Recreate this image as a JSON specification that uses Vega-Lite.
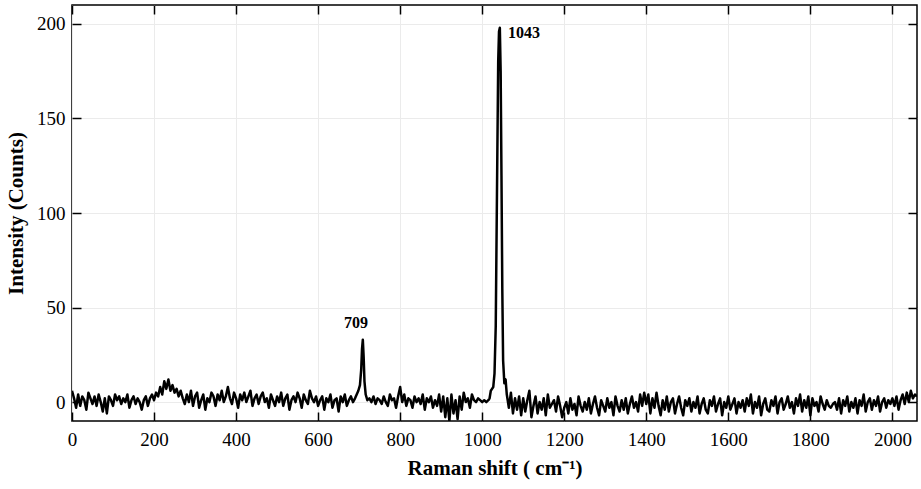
{
  "$schema": "https://vega.github.io/schema/vega-lite/v6.json",
  "width": 845,
  "height": 416,
  "autosize": {"type": "none"},
  "padding": {"left": 72, "top": 5, "right": 4, "bottom": 68},
  "background": "white",
  "config": {
    "view": {"stroke": "black", "strokeWidth": 1.5},
    "font": "Liberation Serif",
    "axis": {
      "labelFont": "Liberation Serif",
      "titleFont": "Liberation Serif",
      "labelFontSize": 19,
      "labelColor": "black",
      "titleColor": "black",
      "titleFontSize": 21,
      "titleFontWeight": "bold",
      "domain": false,
      "tickColor": "black",
      "tickWidth": 1.5,
      "tickSize": -9,
      "labelFlush": false,
      "gridColor": "#ebebeb",
      "gridWidth": 1
    }
  },
  "resolve": {"axis": {"x": "independent", "y": "independent"}},
  "datasets": {
    "spec": [
      {"x":0,"y":6},{"x":5,"y":2},{"x":10,"y":-3},{"x":15,"y":4},{"x":20,"y":-2},{"x":25,"y":3},{"x":30,"y":1},{"x":35,"y":-4},{"x":40,"y":5},{"x":45,"y":2},
      {"x":50,"y":-1},{"x":55,"y":3},{"x":60,"y":-2},{"x":65,"y":4},{"x":70,"y":0},{"x":75,"y":-5},{"x":80,"y":2},{"x":85,"y":-6},{"x":90,"y":3},{"x":95,"y":1},
      {"x":100,"y":-2},{"x":105,"y":4},{"x":110,"y":1},{"x":115,"y":3},{"x":120,"y":-1},{"x":125,"y":2},{"x":130,"y":0},{"x":135,"y":4},{"x":140,"y":-3},{"x":145,"y":1},
      {"x":150,"y":3},{"x":155,"y":-1},{"x":160,"y":2},{"x":165,"y":0},{"x":170,"y":-4},{"x":175,"y":1},{"x":180,"y":3},{"x":185,"y":-2},{"x":190,"y":2},{"x":195,"y":4},
      {"x":200,"y":1},{"x":205,"y":5},{"x":210,"y":3},{"x":215,"y":8},{"x":220,"y":4},{"x":225,"y":11},{"x":230,"y":7},{"x":235,"y":12},{"x":240,"y":6},{"x":245,"y":9},
      {"x":250,"y":5},{"x":255,"y":7},{"x":260,"y":3},{"x":265,"y":6},{"x":270,"y":2},{"x":275,"y":-1},{"x":280,"y":4},{"x":285,"y":0},{"x":290,"y":6},{"x":295,"y":-2},
      {"x":300,"y":3},{"x":305,"y":5},{"x":310,"y":-3},{"x":315,"y":1},{"x":320,"y":4},{"x":325,"y":-4},{"x":330,"y":2},{"x":335,"y":0},{"x":340,"y":5},{"x":345,"y":3},
      {"x":350,"y":-2},{"x":355,"y":4},{"x":360,"y":1},{"x":365,"y":6},{"x":370,"y":0},{"x":375,"y":3},{"x":380,"y":8},{"x":385,"y":2},{"x":390,"y":-1},{"x":395,"y":5},
      {"x":400,"y":2},{"x":405,"y":-3},{"x":410,"y":4},{"x":415,"y":1},{"x":420,"y":5},{"x":425,"y":0},{"x":430,"y":3},{"x":435,"y":6},{"x":440,"y":-2},{"x":445,"y":2},
      {"x":450,"y":4},{"x":455,"y":-1},{"x":460,"y":3},{"x":465,"y":5},{"x":470,"y":0},{"x":475,"y":2},{"x":480,"y":-3},{"x":485,"y":4},{"x":490,"y":1},{"x":495,"y":-2},
      {"x":500,"y":3},{"x":505,"y":0},{"x":510,"y":5},{"x":515,"y":-2},{"x":520,"y":2},{"x":525,"y":4},{"x":530,"y":-4},{"x":535,"y":1},{"x":540,"y":3},{"x":545,"y":0},
      {"x":550,"y":5},{"x":555,"y":2},{"x":560,"y":-3},{"x":565,"y":4},{"x":570,"y":1},{"x":575,"y":-1},{"x":580,"y":6},{"x":585,"y":2},{"x":590,"y":0},{"x":595,"y":3},
      {"x":600,"y":-2},{"x":605,"y":1},{"x":610,"y":3},{"x":615,"y":-4},{"x":620,"y":2},{"x":625,"y":0},{"x":630,"y":4},{"x":635,"y":-3},{"x":640,"y":1},{"x":645,"y":2},
      {"x":650,"y":-5},{"x":655,"y":3},{"x":660,"y":0},{"x":665,"y":4},{"x":670,"y":-2},{"x":675,"y":1},{"x":680,"y":3},{"x":685,"y":0},{"x":690,"y":2},{"x":694,"y":4},
      {"x":698,"y":6},{"x":702,"y":9},{"x":705,"y":17},{"x":707,"y":28},{"x":709,"y":33},{"x":711,"y":24},{"x":713,"y":11},{"x":716,"y":4},{"x":720,"y":1},{"x":725,"y":2},
      {"x":730,"y":0},{"x":735,"y":3},{"x":740,"y":-1},{"x":745,"y":2},
      {"x":750,"y":1},{"x":755,"y":-1},{"x":760,"y":3},{"x":765,"y":0},{"x":770,"y":-2},{"x":775,"y":4},{"x":780,"y":1},{"x":785,"y":2},{"x":790,"y":-3},{"x":795,"y":3},
      {"x":800,"y":8},{"x":805,"y":0},{"x":810,"y":4},{"x":815,"y":-2},{"x":820,"y":2},{"x":825,"y":1},{"x":830,"y":-3},{"x":835,"y":3},{"x":840,"y":0},{"x":845,"y":2},
      {"x":850,"y":-1},{"x":855,"y":4},{"x":860,"y":-4},{"x":865,"y":2},{"x":870,"y":0},{"x":875,"y":3},{"x":880,"y":-3},{"x":885,"y":1},{"x":890,"y":-2},{"x":895,"y":4},
      {"x":900,"y":-5},{"x":905,"y":3},{"x":910,"y":-8},{"x":915,"y":2},{"x":920,"y":-10},{"x":925,"y":4},{"x":930,"y":-6},{"x":935,"y":1},{"x":940,"y":-9},{"x":945,"y":3},
      {"x":950,"y":-4},{"x":955,"y":5},{"x":960,"y":0},{"x":965,"y":2},{"x":970,"y":-3},{"x":975,"y":4},{"x":980,"y":1},{"x":985,"y":0},{"x":990,"y":2},{"x":995,"y":1},
      {"x":1000,"y":0},{"x":1005,"y":1},{"x":1010,"y":0},{"x":1015,"y":1},{"x":1018,"y":2},{"x":1021,"y":6},{"x":1024,"y":7},{"x":1027,"y":8},{"x":1030,"y":15},{"x":1033,"y":40},
      {"x":1036,"y":110},{"x":1039,"y":180},{"x":1041,"y":196},{"x":1043,"y":198},{"x":1045,"y":175},{"x":1047,"y":120},{"x":1049,"y":60},{"x":1051,"y":22},{"x":1054,"y":10},{"x":1057,"y":12},
      {"x":1060,"y":4},{"x":1065,"y":-3},{"x":1070,"y":5},{"x":1075,"y":-6},{"x":1080,"y":2},{"x":1085,"y":-4},{"x":1090,"y":3},{"x":1095,"y":-7},
      {"x":1100,"y":2},{"x":1105,"y":-5},{"x":1110,"y":1},{"x":1115,"y":6},{"x":1120,"y":-8},{"x":1125,"y":-2},{"x":1130,"y":3},{"x":1135,"y":-6},{"x":1140,"y":0},{"x":1145,"y":-4},
      {"x":1150,"y":2},{"x":1155,"y":-7},{"x":1160,"y":4},{"x":1165,"y":-3},{"x":1170,"y":-1},{"x":1175,"y":1},{"x":1180,"y":-5},{"x":1185,"y":3},{"x":1190,"y":-2},{"x":1195,"y":-8},
      {"x":1200,"y":-3},{"x":1205,"y":0},{"x":1210,"y":-6},{"x":1215,"y":2},{"x":1220,"y":-4},{"x":1225,"y":-1},{"x":1230,"y":-7},{"x":1235,"y":3},{"x":1240,"y":-2},{"x":1245,"y":-5},
      {"x":1250,"y":0},{"x":1255,"y":-4},{"x":1260,"y":2},{"x":1265,"y":-6},{"x":1270,"y":-1},{"x":1275,"y":3},{"x":1280,"y":-3},{"x":1285,"y":-7},{"x":1290,"y":1},{"x":1295,"y":-2},
      {"x":1300,"y":-5},{"x":1305,"y":2},{"x":1310,"y":-3},{"x":1315,"y":0},{"x":1320,"y":-7},{"x":1325,"y":3},{"x":1330,"y":-2},{"x":1335,"y":-5},{"x":1340,"y":1},{"x":1345,"y":-4},
      {"x":1350,"y":2},{"x":1355,"y":-6},{"x":1360,"y":-1},{"x":1365,"y":3},{"x":1370,"y":-3},{"x":1375,"y":0},{"x":1380,"y":-5},{"x":1385,"y":4},{"x":1390,"y":-2},{"x":1395,"y":5},
      {"x":1400,"y":-1},{"x":1405,"y":4},{"x":1410,"y":-6},{"x":1415,"y":2},{"x":1420,"y":-3},{"x":1425,"y":5},{"x":1430,"y":-2},{"x":1435,"y":-7},{"x":1440,"y":1},{"x":1445,"y":-4},
      {"x":1450,"y":3},{"x":1455,"y":-5},{"x":1460,"y":0},{"x":1465,"y":2},{"x":1470,"y":-6},{"x":1475,"y":-1},{"x":1480,"y":3},{"x":1485,"y":-3},{"x":1490,"y":-7},{"x":1495,"y":1},
      {"x":1500,"y":-2},{"x":1505,"y":2},{"x":1510,"y":-5},{"x":1515,"y":0},{"x":1520,"y":-3},{"x":1525,"y":3},{"x":1530,"y":-6},{"x":1535,"y":-1},{"x":1540,"y":2},{"x":1545,"y":-4},
      {"x":1550,"y":-6},{"x":1555,"y":1},{"x":1560,"y":-2},{"x":1565,"y":3},{"x":1570,"y":-5},{"x":1575,"y":-1},{"x":1580,"y":2},{"x":1585,"y":-7},{"x":1590,"y":0},{"x":1595,"y":-3},
      {"x":1600,"y":3},{"x":1605,"y":-4},{"x":1610,"y":-1},{"x":1615,"y":2},{"x":1620,"y":-6},{"x":1625,"y":0},{"x":1630,"y":-3},{"x":1635,"y":1},{"x":1640,"y":-5},{"x":1645,"y":2},
      {"x":1650,"y":-2},{"x":1655,"y":4},{"x":1660,"y":-6},{"x":1665,"y":0},{"x":1670,"y":-3},{"x":1675,"y":3},{"x":1680,"y":-7},{"x":1685,"y":-1},{"x":1690,"y":2},{"x":1695,"y":-4},
      {"x":1700,"y":-5},{"x":1705,"y":1},{"x":1710,"y":-2},{"x":1715,"y":3},{"x":1720,"y":-6},{"x":1725,"y":0},{"x":1730,"y":2},{"x":1735,"y":-4},{"x":1740,"y":-1},{"x":1745,"y":3},
      {"x":1750,"y":-3},{"x":1755,"y":0},{"x":1760,"y":-6},{"x":1765,"y":2},{"x":1770,"y":-2},{"x":1775,"y":4},{"x":1780,"y":-5},{"x":1785,"y":1},{"x":1790,"y":-3},{"x":1795,"y":3},
      {"x":1800,"y":-7},{"x":1805,"y":2},{"x":1810,"y":-2},{"x":1815,"y":0},{"x":1820,"y":-5},{"x":1825,"y":3},{"x":1830,"y":-1},{"x":1835,"y":-4},{"x":1840,"y":1},{"x":1845,"y":-2},
      {"x":1850,"y":-3},{"x":1855,"y":-1},{"x":1860,"y":0},{"x":1865,"y":-4},{"x":1870,"y":2},{"x":1875,"y":-6},{"x":1880,"y":1},{"x":1885,"y":-2},{"x":1890,"y":3},{"x":1895,"y":-5},
      {"x":1900,"y":0},{"x":1905,"y":-3},{"x":1910,"y":2},{"x":1915,"y":-6},{"x":1920,"y":1},{"x":1925,"y":-2},{"x":1930,"y":4},{"x":1935,"y":-5},{"x":1940,"y":0},{"x":1945,"y":2},
      {"x":1950,"y":-4},{"x":1955,"y":1},{"x":1960,"y":-2},{"x":1965,"y":3},{"x":1970,"y":-5},{"x":1975,"y":0},{"x":1980,"y":2},{"x":1985,"y":-3},{"x":1990,"y":1},{"x":1995,"y":-1},
      {"x":2000,"y":2},{"x":2005,"y":-2},{"x":2010,"y":3},{"x":2015,"y":-4},{"x":2020,"y":1},{"x":2025,"y":4},{"x":2030,"y":-1},{"x":2035,"y":5},{"x":2040,"y":0},{"x":2045,"y":6},
      {"x":2050,"y":2},{"x":2055,"y":4},{"x":2060,"y":3}
    ],
    "labels": [
      {"x":663,"y":42,"label":"709"},
      {"x":1063,"y":195,"label":"1043"}
    ]
  },
  "layer": [
    {
      "data": {"name": "spec"},
      "mark": {"type": "line", "color": "black", "strokeWidth": 2.5, "clip": true, "strokeJoin": "round"},
      "encoding": {
        "x": {
          "field": "x", "type": "quantitative",
          "scale": {"domain": [0, 2060], "nice": false, "zero": false},
          "axis": {"title": "Raman shift ( cm⁻¹)", "values": [0,200,400,600,800,1000,1200,1400,1600,1800,2000], "format": "d", "labelPadding": 18, "titlePadding": 8, "grid": true}
        },
        "y": {
          "field": "y", "type": "quantitative",
          "scale": {"domain": [-10, 210], "nice": false, "zero": false},
          "axis": {"title": "Intensity (Counts)", "values": [0,50,100,150,200], "format": "d", "labelPadding": 16, "titlePadding": 10, "grid": true}
        }
      }
    },
    {
      "data": {"name": "labels"},
      "mark": {"type": "text", "font": "Liberation Serif", "fontWeight": "bold", "fontSize": 16, "color": "black", "baseline": "middle", "align": "left"},
      "encoding": {
        "x": {"field": "x", "type": "quantitative", "scale": {"domain": [0, 2060], "nice": false, "zero": false},
          "axis": {"orient": "top", "title": null, "labels": false, "grid": false, "values": [0,200,400,600,800,1000,1200,1400,1600,1800,2000]}},
        "y": {"field": "y", "type": "quantitative", "scale": {"domain": [-10, 210], "nice": false, "zero": false},
          "axis": {"orient": "right", "title": null, "labels": false, "grid": false, "values": [0,50,100,150,200]}},
        "text": {"field": "label"}
      }
    }
  ]
}
